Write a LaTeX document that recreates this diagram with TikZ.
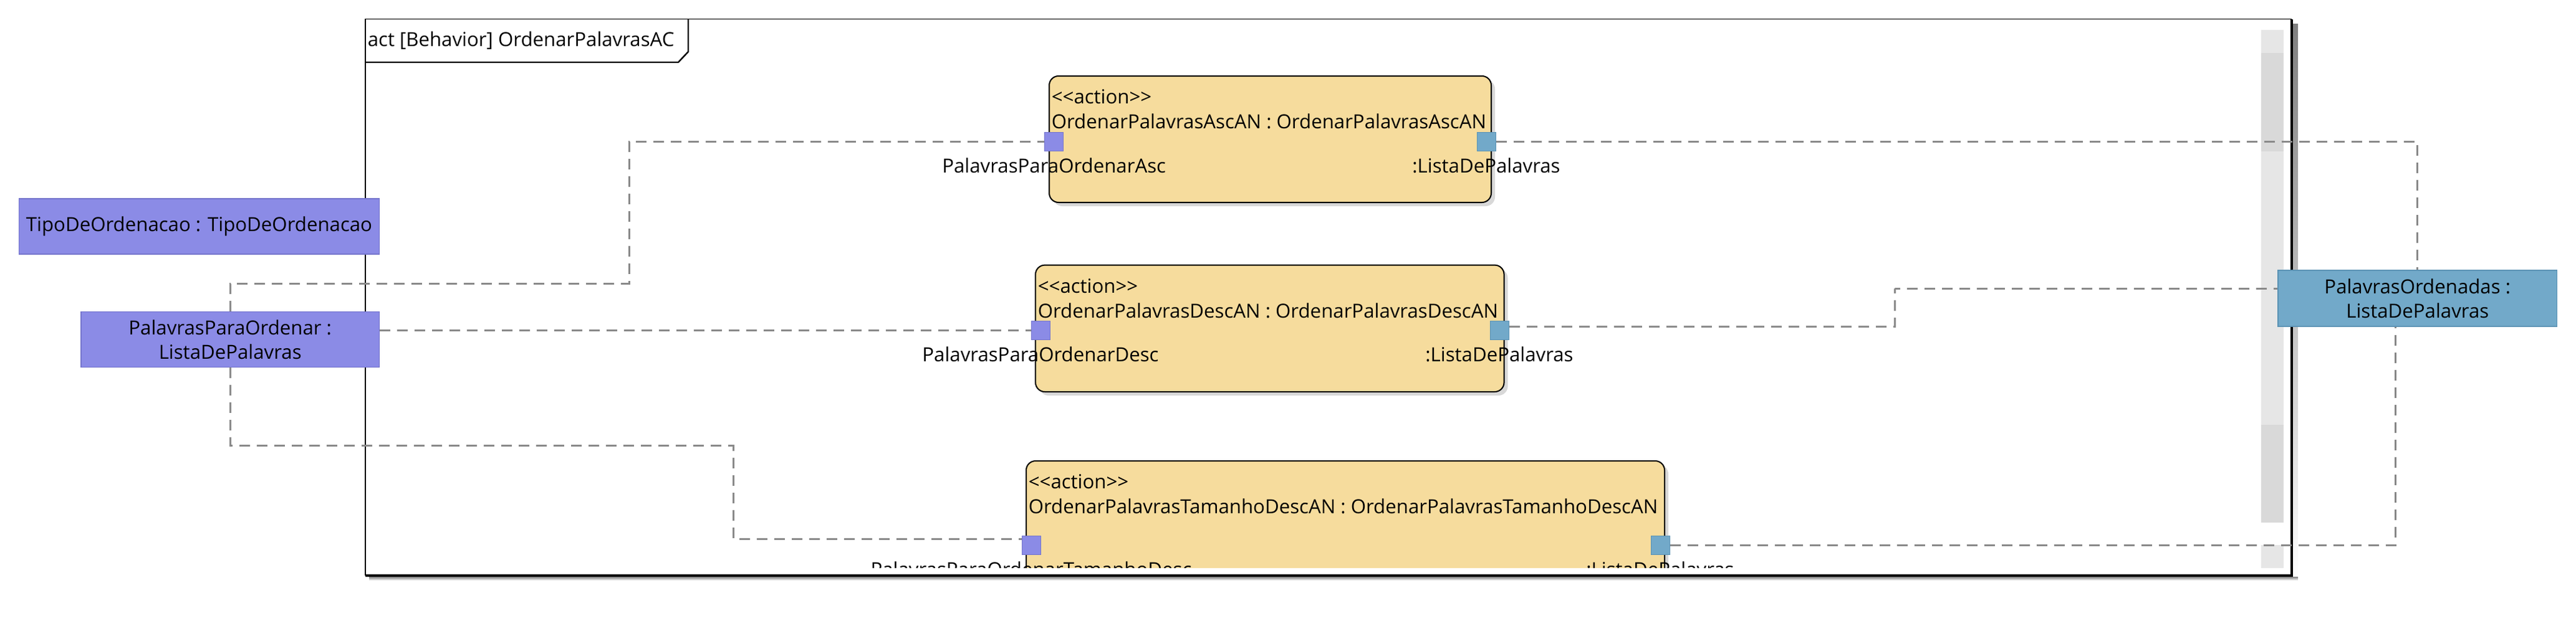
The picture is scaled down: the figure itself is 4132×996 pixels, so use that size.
\documentclass[tikz,border=0pt]{standalone}
\usepackage{fontspec}
\setmainfont{Open Sans}
\usetikzlibrary{shadows}
\definecolor{inblue}{HTML}{8B8BE6}
\definecolor{inblueD}{HTML}{7474CC}
\definecolor{outblue}{HTML}{72A9C9}
\definecolor{outblueD}{HTML}{5A92B4}
\definecolor{actfill}{HTML}{F6DC9D}
\definecolor{dashgray}{HTML}{8A8A8A}
\definecolor{sbar}{HTML}{E6E6E6}
\definecolor{sbarD}{HTML}{D9D9D9}
\definecolor{shade}{HTML}{D8D8D8}
\newcommand{\stereoaction}{\textless\kern0pt\textless\kern0pt action\kern0pt\textgreater\kern0pt\textgreater}
\begin{document}
\begin{tikzpicture}[x=0.25pt,y=-0.25pt,
  font=\fontsize{7.8}{9.75}\selectfont,
  flow/.style={draw=dashgray, line width=0.75pt, dash pattern=on 4.25pt off 2.75pt},
  objin/.style={fill=inblue, draw=inblueD, line width=0.3pt, inner sep=0pt, align=center},
  objout/.style={fill=outblue, draw=outblueD, line width=0.3pt, inner sep=0pt, align=center},
  actbox/.style={fill=actfill, draw=black, line width=0.5pt, rounded corners=3.75pt, inner sep=0pt,
    drop shadow={shadow xshift=1.5pt, shadow yshift=-1.5pt, fill=shade, opacity=1}},
  pin/.style={fill=inblue, draw=inblueD, line width=0.25pt, minimum size=7.5pt, inner sep=0pt},
  pout/.style={fill=outblue, draw=outblueD, line width=0.25pt, minimum size=7.5pt, inner sep=0pt},
  txt/.style={inner sep=0pt, anchor=west},
  plabel/.style={inner sep=0pt}]
\useasboundingbox (0,0) rectangle (4132,996);

% frame shadow and frame
\fill[shade] (3678,38) rectangle (3686,932);
\fill[shade] (592,926) rectangle (3686,932);
\draw[line width=0.45pt] (585.7,924) -- (585.7,30.5) -- (3676,30.5);
\draw[line width=0.9pt] (3676,30.5) -- (3676,924) -- (585.7,924);
\draw[line width=0.6pt] (585.7,100) -- (1088,100) -- (1104,83) -- (1104,30.5);
\node[txt] (title) at (589,65) {act [Behavior] OrdenarPalavrasAC};

% scrollbar
\fill[sbar] (3627,48) rectangle (3663,84.5);
\fill[sbarD] (3627,84.5) rectangle (3663,242.6);
\fill[sbar] (3627,242.6) rectangle (3663,681.6);
\fill[sbarD] (3627,681.6) rectangle (3663,838.5);
\fill[sbar] (3627,875) rectangle (3663,911.5);

% action: ascending
\node[actbox, minimum width=177.25pt, minimum height=50.75pt] (asc) at (2037.5,223.5) {};
\node[txt] (ascst) at (1686,155.6) {\stereoaction};
\node[txt] (ascnm) at (1686,195) {OrdenarPalavrasAscAN : OrdenarPalavrasAscAN};
\node[pin] (inAsc) at (1690.7,227) {};
\node[pout] (outAsc) at (2384,227) {};
\node[plabel] (inAscL) at (1690.7,265.5) {PalavrasParaOrdenarAsc};
\node[plabel] (outAscL) at (2384,265.5) {:ListaDePalavras};

% action: descending
\node[actbox, minimum width=187.9pt, minimum height=50.85pt] (desc) at (2036.75,527.3) {};
\node[txt] (descst) at (1664,459) {\stereoaction};
\node[txt] (descnm) at (1664,498.4) {OrdenarPalavrasDescAN : OrdenarPalavrasDescAN};
\node[pin] (inDesc) at (1669,530) {};
\node[pout] (outDesc) at (2405,530) {};
\node[plabel] (inDescL) at (1669,568.5) {PalavrasParaOrdenarDesc};
\node[plabel] (outDescL) at (2405,568.5) {:ListaDePalavras};

% action: length descending (clipped by frame)
\begin{scope}
\clip (587,32) rectangle (3674,911.5);
\node[actbox, minimum width=256pt, minimum height=50.75pt] (tam) at (2158,841.5) {};
\node[txt] (tamst) at (1649,773.6) {\stereoaction};
\node[txt] (tamnm) at (1649,813) {OrdenarPalavrasTamanhoDescAN : OrdenarPalavrasTamanhoDescAN};
\node[pin] (inTam) at (1654,875) {};
\node[pout] (outTam) at (2663,875) {};
\node[plabel] (inTamL) at (1654,913.5) {PalavrasParaOrdenarTamanhoDesc};
\node[plabel] (outTamL) at (2663,913.5) {:ListaDePalavras};
\end{scope}

% parameter nodes
\node[objin, minimum width=144.5pt, minimum height=22.25pt] (tipo) at (319.5,363.5) {TipoDeOrdenacao : TipoDeOrdenacao};
\node[objin, minimum width=119.6pt, minimum height=22.25pt] (ppo) at (369.25,545) {PalavrasParaOrdenar :\\ListaDePalavras};
\node[objout, minimum width=111.9pt, minimum height=22.5pt] (ord) at (3877.75,479) {PalavrasOrdenadas :\\ListaDePalavras};

% object flows
\draw[flow] (ppo.north) |- (1009,455) |- (inAsc.west);
\draw[flow] (ppo.east |- inDesc.west) -- (inDesc.west);
\draw[flow] (ppo.south) |- (1176,715) |- ([yshift=2.5pt]inTam.west);
\draw[flow] (outAsc.east) -| (ord.north);
\draw[flow] ([yshift=1.3pt]outDesc.east) -| (3039,463.7) |- ([yshift=3.8pt]ord.west);
\draw[flow] (outTam.east) -| ([xshift=-8.9pt]ord.south);
\end{tikzpicture}
\end{document}
